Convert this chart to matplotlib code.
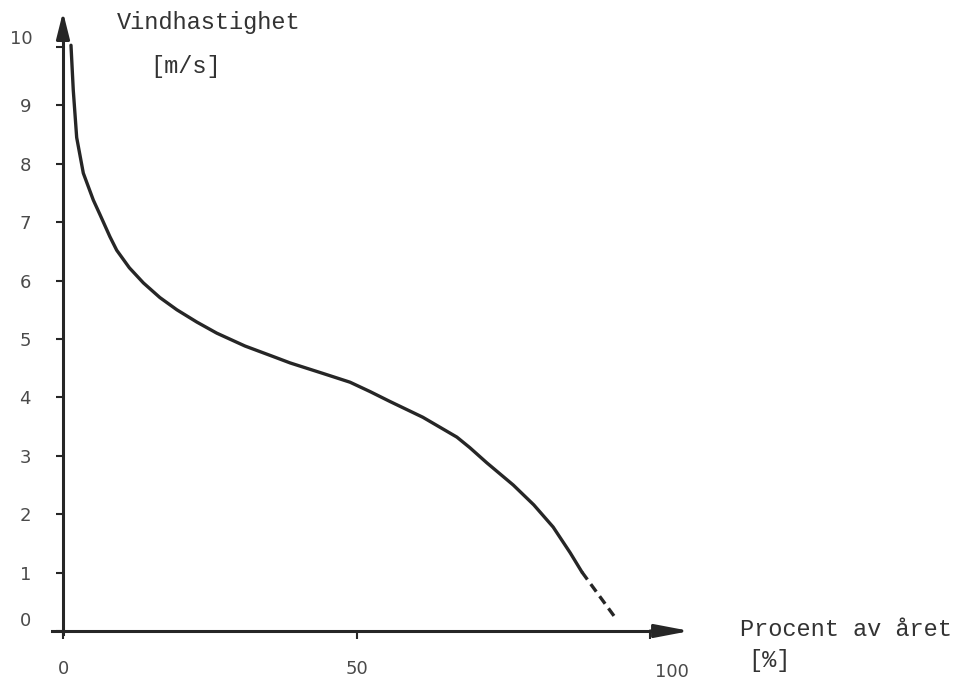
import matplotlib.pyplot as plt
from matplotlib.transforms import ScaledTranslation

##---------------------------data-------------------------##
pct_solid = [1.36, 1.75, 2.33, 3.46, 5.16, 6.3, 8.0, 9.15, 11.3, 13.7, 16.5, 19.4, 22.8,
             26.2, 31.0, 35.8, 38.7, 44.3, 48.9, 52.3, 55.7, 61.3, 67.1, 69.3, 72.2,
             76.7, 80.2, 83.5, 86.4, 88.4]
speed_solid = [10.03, 9.26, 8.45, 7.84, 7.38, 7.13, 6.75, 6.52, 6.22, 5.96, 5.71, 5.5, 5.29,
               5.1, 4.88, 4.7, 4.59, 4.41, 4.26, 4.1, 3.93, 3.66, 3.32, 3.14, 2.88,
               2.5, 2.16, 1.78, 1.34, 1.01]
pct_dash = [88.4, 94.0]
speed_dash = [1.01, 0.24]

y_ticks = list(range(11))
x_ticks = [0, 50, 100]

ink = '#262626'
grey = '#4a4a4a'

##---------------------------figure-------------------------------##
fig = plt.figure(figsize=(9.64, 6.84), dpi=100)
ax = fig.add_axes([0, 0, 1, 1])
# pixel mapping: x=0 at 63 px, 5.87 px per %, y=0 at 631 px, 58.4 px per m/s
ax.set_xlim(-63 / 5.87, (964 - 63) / 5.87)
ax.set_ylim((631 - 684) / 58.4, 631 / 58.4)

ax.plot(pct_solid, speed_solid, color=ink, lw=2.4, solid_capstyle='round',
        solid_joinstyle='round')
ax.plot(pct_dash, speed_dash, color=ink, lw=2.4, dashes=(2.8, 1.7))

# axes with arrows
for s in ['top', 'right']:
    ax.spines[s].set_visible(False)
ax.spines['left'].set_position(('data', 0))
ax.spines['bottom'].set_position(('data', 0))
ax.spines['left'].set_bounds(-0.05, 10.3)
ax.spines['bottom'].set_bounds(-1.9, 104)
for s in ['left', 'bottom']:
    ax.spines[s].set_linewidth(2.2)
    ax.spines[s].set_color(ink)

arrow_y = dict(arrowstyle='-|>,head_length=0.8,head_width=0.2', color=ink, lw=2.2,
               mutation_scale=20, shrinkA=0, shrinkB=0)
arrow_x = dict(arrowstyle='-|>,head_length=1.05,head_width=0.2', color=ink, lw=2.2,
               mutation_scale=20, shrinkA=0, shrinkB=0)
ax.annotate('', xy=(0, 10.6), xytext=(0, 10.1), arrowprops=arrow_y)
ax.annotate('', xy=(106.8, 0), xytext=(100.0, 0), arrowprops=arrow_x)

ax.set_yticks(y_ticks)
ax.set_yticklabels([str(v) for v in y_ticks])
ax.set_xticks(x_ticks)
ax.set_xticklabels([str(v) for v in x_ticks])
ax.tick_params(axis='y', direction='out', length=5, width=1.5, color=ink,
               pad=18, labelsize=13, labelcolor=grey)
ax.tick_params(axis='x', direction='out', length=6, width=1.5, color=ink,
               pad=15, labelsize=13, labelcolor=grey)

# small shifts of some labels as in the scan
ylabs = ax.get_yticklabels()
ylabs[0].set_transform(ylabs[0].get_transform() + ScaledTranslation(0, 0.12, fig.dpi_scale_trans))
ylabs[10].set_transform(ylabs[10].get_transform() + ScaledTranslation(0.02, 0.10, fig.dpi_scale_trans))
xlabs = ax.get_xticklabels()
xlabs[2].set_transform(xlabs[2].get_transform() + ScaledTranslation(0.22, -0.03, fig.dpi_scale_trans))

mono = dict(family='Liberation Mono', fontsize=17, color='#333333', va='center', ha='left')
fig.text(117 / 964, 1 - 22 / 684, 'Vindhastighet', **mono)
fig.text(150 / 964, 1 - 67 / 684, '[m/s]', **mono)
fig.text(740 / 964, 1 - 630 / 684, 'Procent av året', **mono)
fig.text(748 / 964, 1 - 661 / 684, '[%]', **mono)

fig.savefig('out.png', dpi=100, facecolor='white')
